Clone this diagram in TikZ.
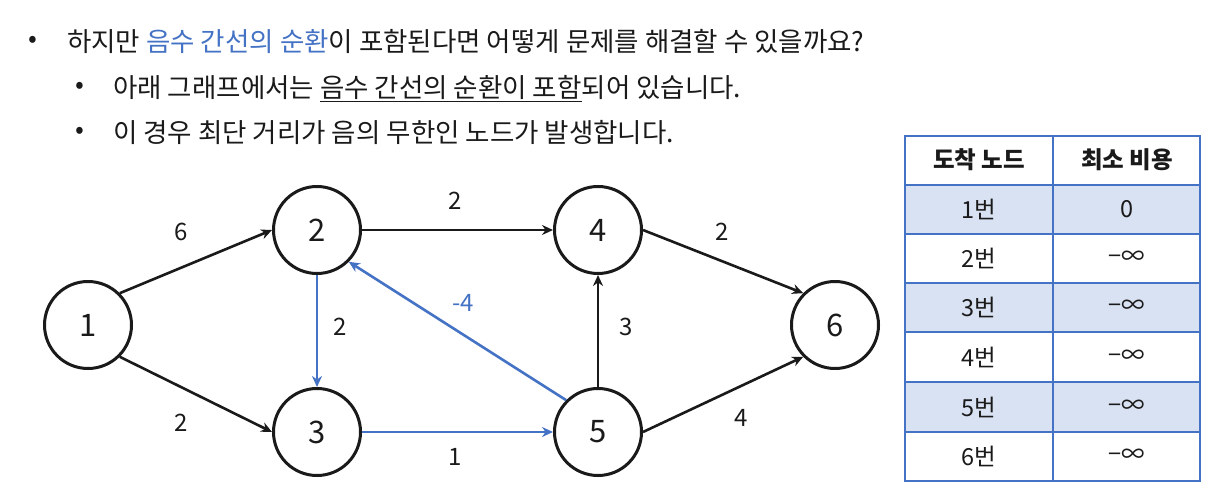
\documentclass[tikz,border=0pt]{standalone}
\usepackage{fontspec}
\setmainfont{Noto Sans CJK KR}
\usetikzlibrary{arrows.meta}
\definecolor{blu}{HTML}{4472C4}
\definecolor{rowfill}{HTML}{D9E2F3}
\definecolor{txt}{HTML}{1A1A1A}
\begin{document}
\begin{tikzpicture}[x=1pt,y=-1pt,
  vert/.style={circle,draw=txt,line width=3pt,minimum size=87pt,inner sep=0pt,text=txt,font=\fontsize{31}{31}\selectfont},
  edge/.style={draw=txt,line width=2.6pt,-{Stealth[length=11pt,width=10pt]}},
  bedge/.style={edge,draw=blu},
  lab/.style={text=txt,font=\fontsize{24}{24}\selectfont,inner sep=0pt},
  blab/.style={lab,text=blu},
  bul/.style={text=txt,font=\fontsize{26}{26}\selectfont,inner sep=0pt},
  line/.style={anchor=base west,text=txt,font=\fontsize{26.5}{26.5}\selectfont,inner sep=0pt},
  cell/.style={text=txt,font=\fontsize{23.5}{23.5}\selectfont,inner sep=0pt},
  hcell/.style={cell,font=\fontsize{23.5}{23.5}\selectfont\bfseries},
  tline/.style={draw=blu,line width=1.4pt}]
\useasboundingbox[fill=white] (0,0) rectangle (1215,502);

% bullet text
\node[bul] (b1) at (33,42) {•};
\node[line] (t1) at (67,52) {하지만 \textcolor{blu}{음수 간선의 순환}이 포함된다면 어떻게 문제를 해결할 수 있을까요?};
\node[bul] (b2) at (80,88) {•};
\node[line] (t2) at (113,98) {아래 그래프에서는 \underline{음수 간선의 순환이 포함}되어 있습니다.};
\node[bul] (b3) at (80,133) {•};
\node[line] (t3) at (113,143) {이 경우 최단 거리가 음의 무한인 노드가 발생합니다.};

% graph nodes
\node[vert] (n1) at (88,325) {1};
\node[vert] (n2) at (317,230) {2};
\node[vert] (n3) at (317,432) {3};
\node[vert] (n4) at (598,230) {4};
\node[vert] (n5) at (598,432) {5};
\node[vert] (n6) at (835,325) {6};

% edges
\draw[edge] (n1.45) -- (n2.west);
\draw[edge] (n1.-45) -- (n3.west);
\draw[edge] (n2.east) -- (n4.west);
\draw[bedge] (n2.south) -- (n3.north);
\draw[bedge] (n3.east) -- (n5.west);
\draw[bedge] (n5.135) -- (n2.-45);
\draw[edge] (n5.north) -- (n4.south);
\draw[edge] (n4.east) -- (n6.135);
\draw[edge] (n5.east) -- (n6.-135);

% edge labels
\node[lab] (l12) at (181,232) {6};
\node[lab] (l13) at (181,423) {2};
\node[lab] (l24) at (455,201) {2};
\node[lab] (l23) at (340,327) {2};
\node[blab] (l52) at (463,303) {-4};
\node[lab] (l35) at (455,457) {1};
\node[lab] (l54) at (626,327) {3};
\node[lab] (l46) at (722,232) {2};
\node[lab] (l56) at (741,418) {4};

% table
\foreach \y in {185,283,382} {
  \fill[rowfill] (905,\y) rectangle (1200,\y+49);
}
\draw[tline] (905,136) rectangle (1200,481);
\draw[tline] (1053,136) -- (1053,481);
\draw[tline,line width=2.4pt] (905,185) -- (1200,185);
\foreach \y in {234,283,332,382,432} {
  \draw[tline] (905,\y) -- (1200,\y);
}
\node[hcell] (h1) at (979,160) {도착 노드};
\node[hcell] (h2) at (1127,160) {최소 비용};
\node[cell] (r1a) at (979,209) {1번};
\node[cell] (r1b) at (1127,209) {0};
\node[cell] (r2a) at (979,258) {2번};
\node[cell] (r2b) at (1127,258) {−∞};
\node[cell] (r3a) at (979,307) {3번};
\node[cell] (r3b) at (1127,307) {−∞};
\node[cell] (r4a) at (979,357) {4번};
\node[cell] (r4b) at (1127,357) {−∞};
\node[cell] (r5a) at (979,407) {5번};
\node[cell] (r5b) at (1127,407) {−∞};
\node[cell] (r6a) at (979,456) {6번};
\node[cell] (r6b) at (1127,456) {−∞};
\end{tikzpicture}
\end{document}
